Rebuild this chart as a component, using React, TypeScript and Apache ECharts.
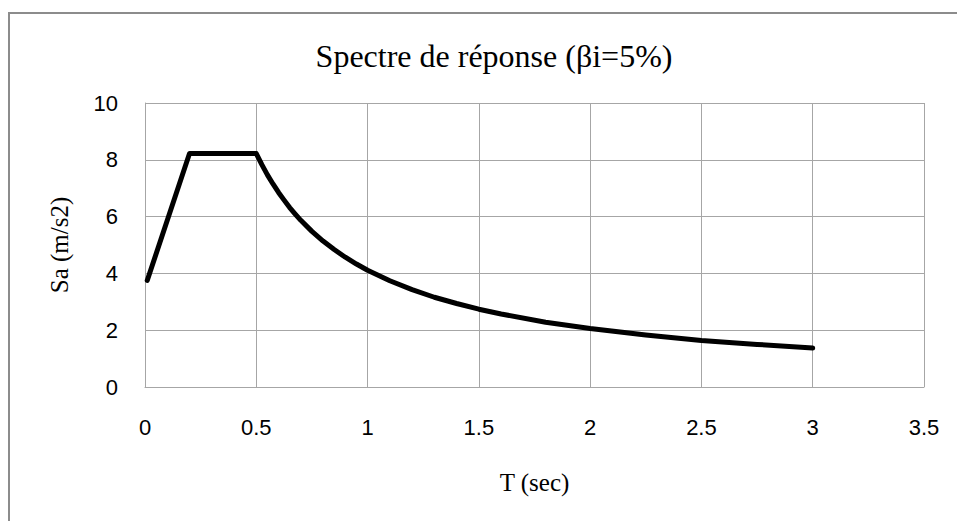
import React, { useEffect, useRef } from "react";
import * as echarts from "echarts";

const periods = [0.01, 0.2, 0.5, 0.525, 0.55, 0.575, 0.6, 0.625, 0.65, 0.675, 0.7, 0.75, 0.8, 0.85, 0.9, 0.95, 1.0, 1.1, 1.2, 1.3, 1.4, 1.5, 1.6, 1.8, 2.0, 2.25, 2.5, 2.75, 3.0];
const accelerations = [3.75, 8.22, 8.22, 7.83, 7.47, 7.15, 6.85, 6.58, 6.32, 6.09, 5.87, 5.48, 5.14, 4.84, 4.57, 4.33, 4.11, 3.74, 3.43, 3.16, 2.94, 2.74, 2.57, 2.28, 2.06, 1.83, 1.64, 1.5, 1.37];
const titleText = "Spectre de réponse (βi=5%)";
const xName = "T (sec)";
const yName = "Sa (m/s2)";

export default function App() {
  const ref = useRef<HTMLDivElement>(null);
  useEffect(() => {
    if (!ref.current) return;
    const chart = echarts.init(ref.current, null, { renderer: "svg" });
    const gridColor = "#a6a6a6";
    chart.setOption({
      animation: false,
      backgroundColor: "#ffffff",
      title: {
        text: titleText,
        left: 489,
        top: 35,
        textAlign: "center",
        textStyle: { fontFamily: "Liberation Serif", fontSize: 32, fontWeight: "normal", color: "#000" },
      },
      graphic: [
        {
          type: "rect",
          shape: { x: 9, y: 13, width: 1000, height: 600 },
          style: { fill: "none", stroke: "#8c8c8c", lineWidth: 2 },
          silent: true,
        },
      ],
      grid: { left: 145, top: 103, right: 33, bottom: 134 },
      xAxis: {
        type: "value",
        min: 0,
        max: 3.5,
        interval: 0.5,
        name: xName,
        nameLocation: "middle",
        nameGap: 83,
        nameTextStyle: { fontFamily: "Liberation Serif", fontSize: 25, color: "#000" },
        axisLine: { show: true, lineStyle: { color: gridColor, width: 1 } },
        axisTick: { show: false },
        axisLabel: { fontFamily: "Liberation Sans", fontSize: 22, color: "#000", margin: 29 },
        splitLine: { show: true, lineStyle: { color: gridColor, width: 1 } },
      },
      yAxis: {
        type: "value",
        min: 0,
        max: 10,
        interval: 2,
        name: yName,
        nameLocation: "middle",
        nameGap: 73,
        nameRotate: 90,
        nameTextStyle: { fontFamily: "Liberation Serif", fontSize: 25, color: "#000" },
        axisLine: { show: true, lineStyle: { color: gridColor, width: 1 } },
        axisTick: { show: false },
        axisLabel: { fontFamily: "Liberation Sans", fontSize: 22, color: "#000", margin: 27 },
        splitLine: { show: true, lineStyle: { color: gridColor, width: 1 } },
      },
      series: [
        {
          type: "line",
          data: periods.map((t, i) => [t, accelerations[i]]),
          showSymbol: false,
          symbol: "none",
          smooth: false,
          lineStyle: { color: "#000", width: 5, cap: "round", join: "round" },
        },
      ],
    });
    return () => chart.dispose();
  }, []);
  return (
    <div
      ref={ref}
      style={{ position: "fixed", left: 0, top: 0, width: 957, height: 521, background: "#fff" }}
    />
  );
}
